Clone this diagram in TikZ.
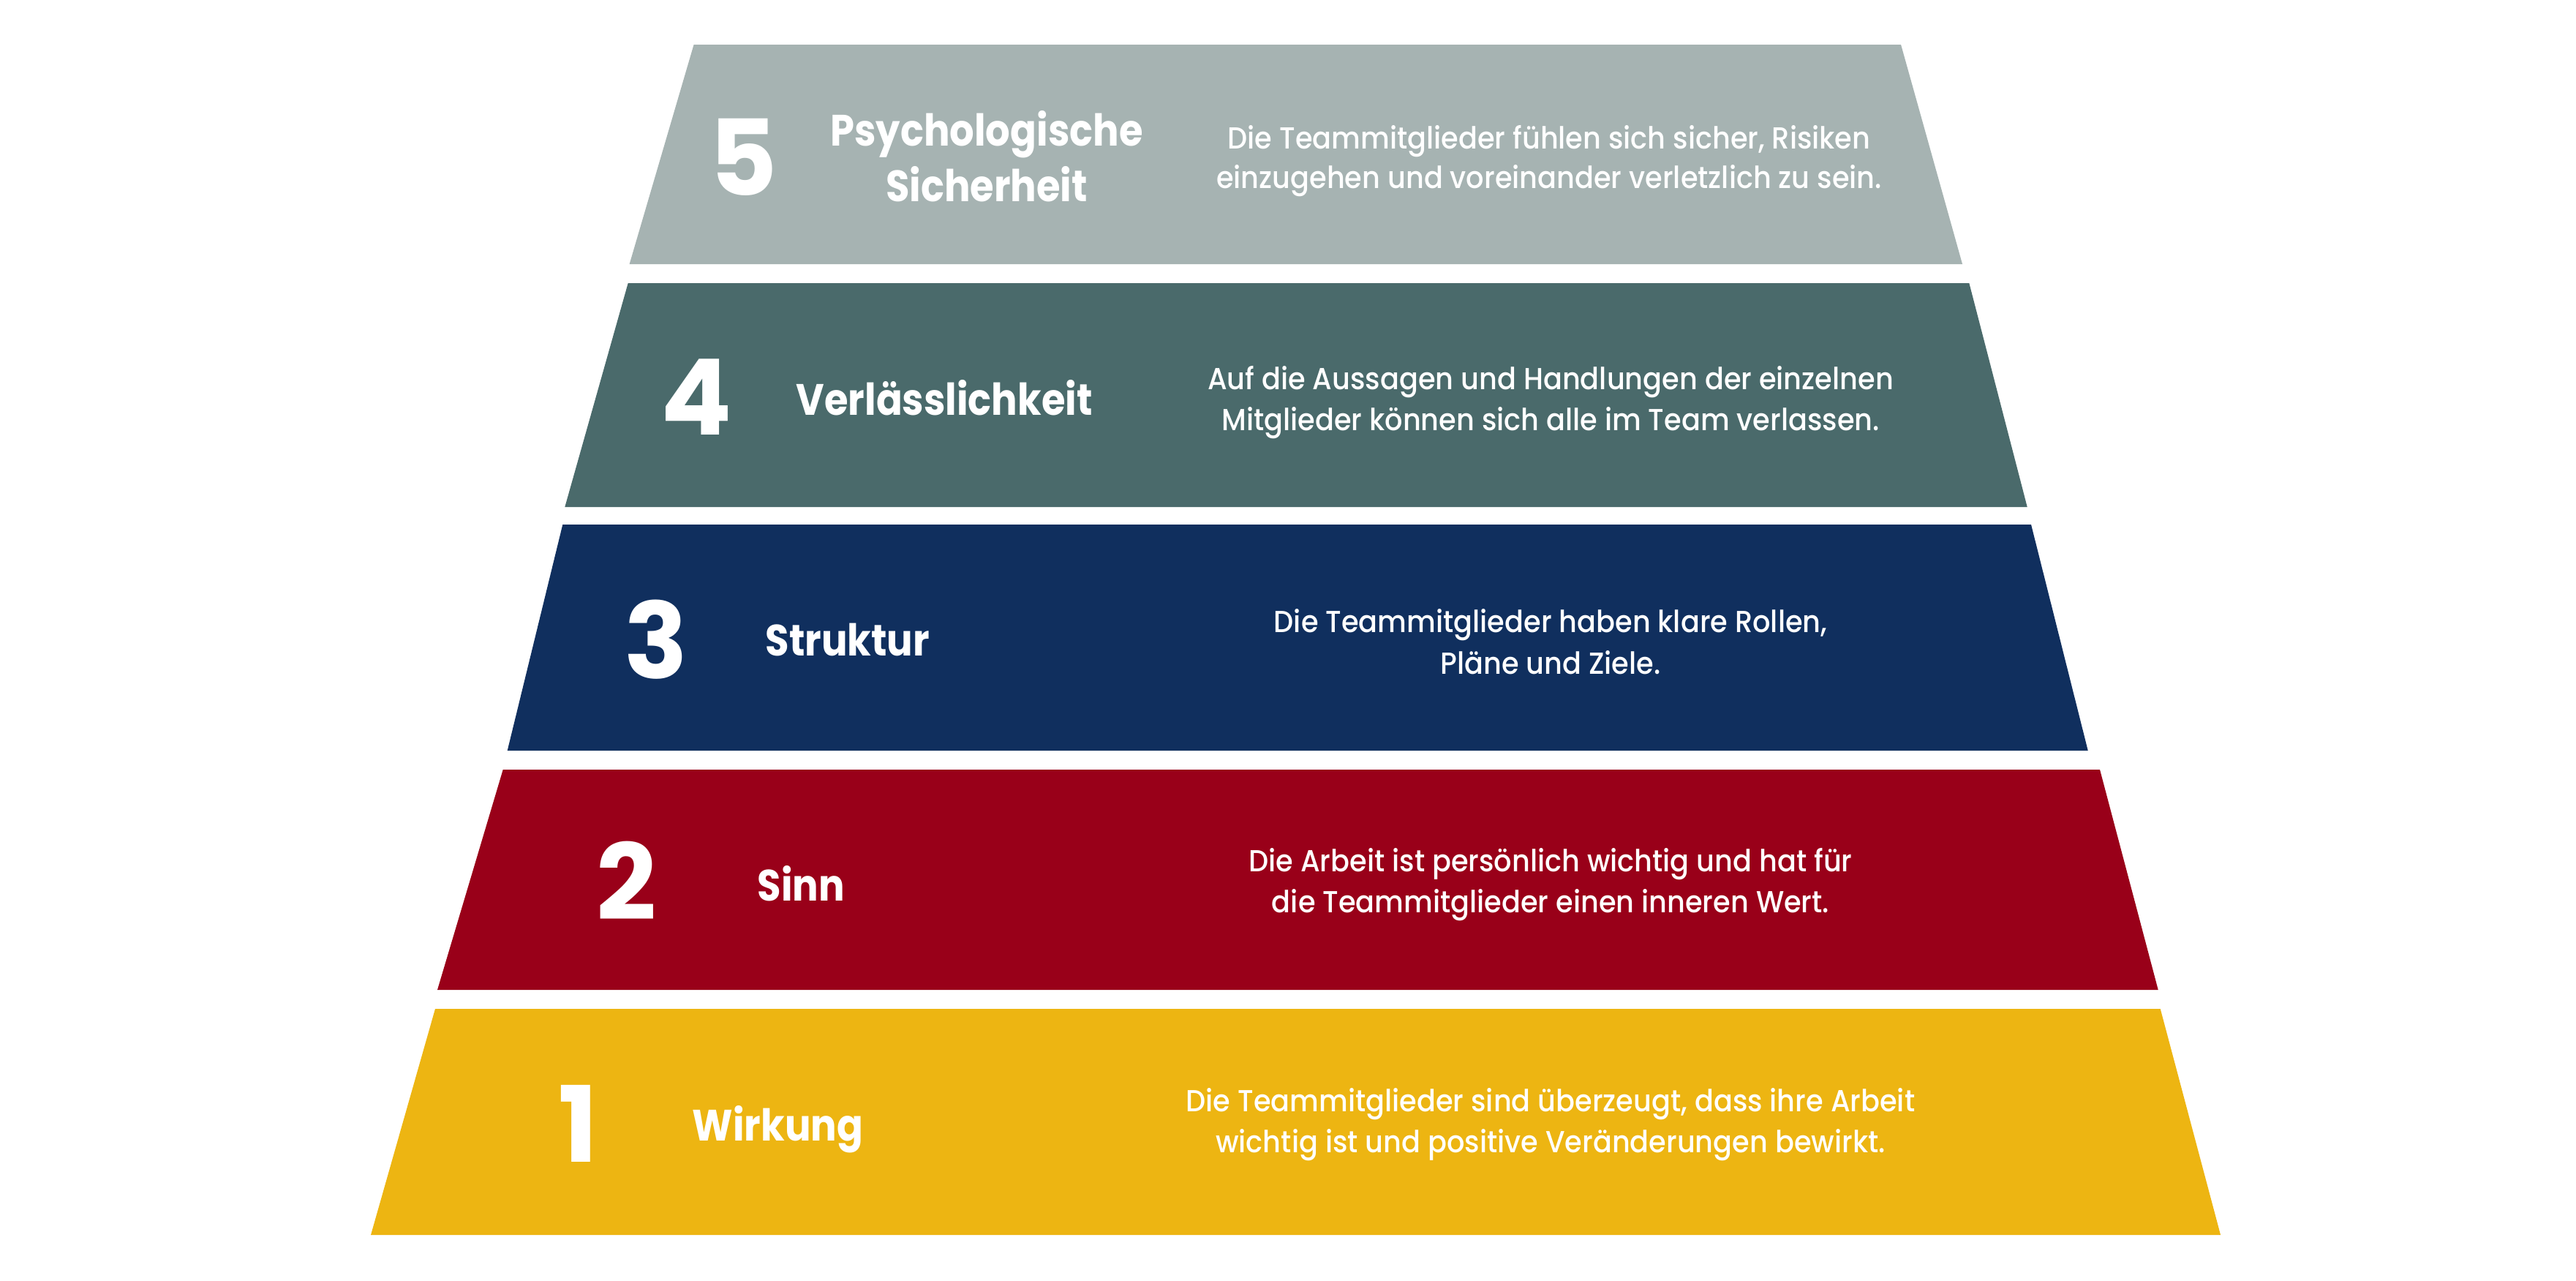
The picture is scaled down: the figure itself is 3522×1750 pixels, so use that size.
\documentclass[tikz,border=0pt]{standalone}
\usepackage{fontspec}
\setmainfont{Poppins}
\newfontfamily\descfont{Poppins Medium}[FakeStretch=0.92]
\newfontfamily\titlefont{Poppins Bold}[FakeStretch=0.88]
\definecolor{cfive}{HTML}{A6B3B2}
\definecolor{cfour}{HTML}{4A6A6B}
\definecolor{cthree}{HTML}{102F5E}
\definecolor{ctwo}{HTML}{990019}
\definecolor{cone}{HTML}{EDB512}
\begin{document}
\begin{tikzpicture}[x=0.25pt,y=-0.25pt,
  num/.style={anchor=base,text=white,inner sep=0pt,font=\bfseries\fontsize{36}{36}\selectfont},
  ttl/.style={anchor=base west,text=white,inner sep=0pt,font=\titlefont\fontsize{15}{19}\selectfont},
  ttlc/.style={ttl,anchor=base},
  desc/.style={anchor=base,text=white,inner sep=0pt,font=\descfont\fontsize{10.4}{13.5}\selectfont}]
\useasboundingbox (0,0) rectangle (3522,1750);
\fill[white] (0,0) rectangle (3522,1750);
% tiers
\fill[cfive]  (948.6,61)  -- (2599,61)    -- (2683,361)    -- (860.6,361)  -- cycle;
\fill[cfour]  (858.7,387) -- (2692.3,387) -- (2771.7,693)  -- (772.3,693)  -- cycle;
\fill[cthree] (769.3,717) -- (2777,717)   -- (2854.7,1026) -- (693.7,1026) -- cycle;
\fill[ctwo]   (687.7,1052) -- (2871,1052) -- (2950.7,1353) -- (598,1353)   -- cycle;
\fill[cone]   (595,1379)  -- (2953.7,1379) -- (3036,1688)  -- (507,1688)   -- cycle;
% tier 5
\node[num] (n5) at (1016,267) {5};
\node[ttlc] (t5a) at (1349,199) {Psychologische};
\node[ttlc] (t5b) at (1349,275) {Sicherheit};
\node[desc] (d5a) at (2118,203) {Die Teammitglieder fühlen sich sicher, Risiken};
\node[desc] (d5b) at (2118,257) {einzugehen und voreinander verletzlich zu sein.};
% tier 4
\node[num] (n4) at (952,594) {4};
\node[ttl] (t4) at (1088,567) {Verlässlichkeit};
\node[desc] (d4a) at (2120,532) {Auf die Aussagen und Handlungen der einzelnen};
\node[desc] (d4b) at (2120,588) {Mitglieder können sich alle im Team verlassen.};
% tier 3
\node[num] (n3) at (897,927) {3};
\node[ttl] (t3) at (1046,896) {Struktur};
\node[desc] (d3a) at (2120,864) {Die Teammitglieder haben klare Rollen,};
\node[desc] (d3b) at (2120,921) {Pläne und Ziele.};
% tier 2
\node[num] (n2) at (857,1257) {2};
\node[ttl] (t2) at (1035,1231) {Sinn};
\node[desc] (d2a) at (2120,1191) {Die Arbeit ist persönlich wichtig und hat für};
\node[desc] (d2b) at (2120,1247) {die Teammitglieder einen inneren Wert.};
% tier 1
\node[num] (n1) at (791,1588) {1};
\node[ttl] (t1) at (946,1559) {Wirkung};
\node[desc] (d1a) at (2120,1519) {Die Teammitglieder sind überzeugt, dass ihre Arbeit};
\node[desc] (d1b) at (2120,1575) {wichtig ist und positive Veränderungen bewirkt.};
\end{tikzpicture}
\end{document}
